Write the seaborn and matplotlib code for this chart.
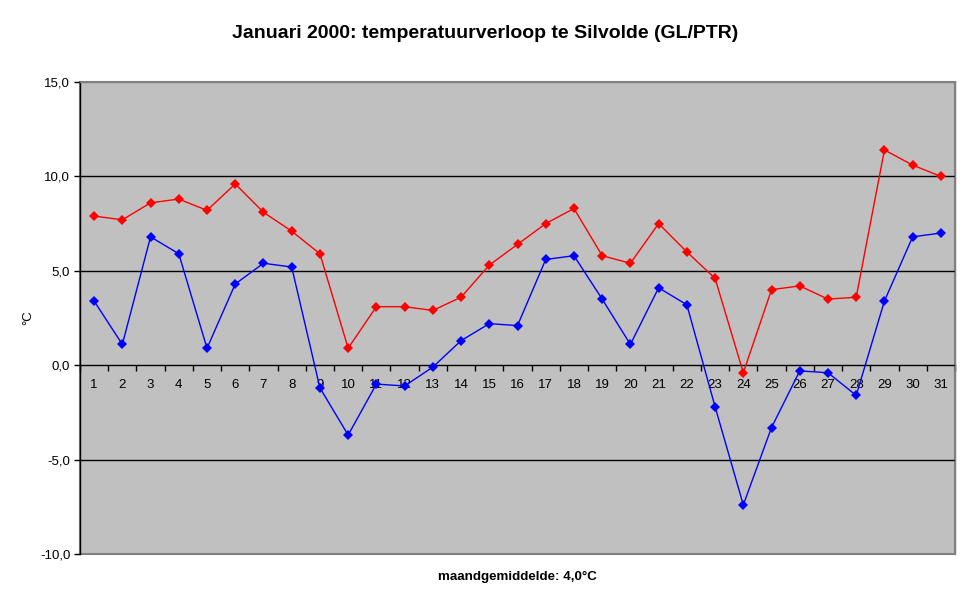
import matplotlib
matplotlib.use("Agg")
import matplotlib.pyplot as plt
import seaborn as sns
import pandas as pd
from matplotlib.patches import Rectangle
from matplotlib.ticker import FixedLocator, FuncFormatter

days = list(range(1, 32))
tmax = [7.9, 7.7, 8.6, 8.8, 8.2, 9.6, 8.1, 7.1, 5.9, 0.9,
        3.1, 3.1, 2.9, 3.6, 5.3, 6.4, 7.5, 8.3, 5.8, 5.4,
        7.5, 6.0, 4.6, -0.4, 4.0, 4.2, 3.5, 3.6, 11.4, 10.6, 10.0]
tmin = [3.4, 1.1, 6.8, 5.9, 0.9, 4.3, 5.4, 5.2, -1.2, -3.7,
        -1.0, -1.1, -0.1, 1.3, 2.2, 2.1, 5.6, 5.8, 3.5, 1.1,
        4.1, 3.2, -2.2, -7.4, -3.3, -0.3, -0.4, -1.6, 3.4, 6.8, 7.0]
yticks = [-10, -5, 0, 5, 10, 15]
title = "Januari 2000: temperatuurverloop te Silvolde (GL/PTR)"
xlabel = "maandgemiddelde: 4,0°C"
ylabel = "°C"

sns.set_style("white")
plt.rcParams['font.family'] = ['Liberation Sans', 'DejaVu Sans']
plt.rcParams['text.color'] = 'black'
plt.rcParams['xtick.color'] = 'black'
plt.rcParams['ytick.color'] = 'black'
plt.rcParams['axes.labelcolor'] = 'black'

df = pd.DataFrame({"dag": days, "max": tmax, "min": tmin})

fig = plt.figure(figsize=(9.7, 6.04), dpi=100)
ax = fig.add_axes([80/970, 50/604, 875/970, 472/604])
ax.set_facecolor("#C0C0C0")

for v in [-5, 5, 10]:
    ax.axhline(v, color="black", lw=1, zorder=1)

sns.lineplot(data=df, x="dag", y="min", ax=ax, color="#0000FF", marker="D",
             markersize=5, markeredgewidth=0, lw=1, zorder=3)
sns.lineplot(data=df, x="dag", y="max", ax=ax, color="#FF0000", marker="D",
             markersize=5, markeredgewidth=0, lw=1, zorder=3)

ax.set_xlim(0.5, 31.5)
ax.set_ylim(-10, 15)
ax.set_yticks(yticks)
ax.yaxis.set_major_formatter(FuncFormatter(lambda v, p: f"{v:.1f}".replace(".", ",")))
ax.tick_params(axis="y", direction="out", length=4, width=1, color="black",
               labelcolor="black", labelsize=9.5, pad=3, left=True)

# category axis at y=0
ax.spines['bottom'].set_position(('data', 0))
ax.spines['bottom'].set_color("black")
ax.spines['bottom'].set_linewidth(1)
ax.spines['bottom'].set_zorder(2)
ax.xaxis.set_major_locator(FixedLocator([d + 0.5 for d in range(0, 32)]))
ax.xaxis.set_minor_locator(FixedLocator(days))
ax.xaxis.set_major_formatter(FuncFormatter(lambda v, p: ""))
ax.xaxis.set_minor_formatter(FuncFormatter(lambda v, p: str(int(round(v)))))
ax.tick_params(axis="x", which="major", direction="out", length=4, width=1,
               color="black", bottom=True)
ax.tick_params(axis="x", which="minor", length=0, labelsize=9.5, pad=10,
               labelcolor="black", bottom=True)

ax.spines['left'].set_color("black")
ax.spines['left'].set_linewidth(1)
for s in ['top', 'right']:
    ax.spines[s].set_color("#808080")
    ax.spines[s].set_linewidth(1)
ax.add_patch(Rectangle((0, 0), 1, 1, transform=ax.transAxes, fill=False,
                       edgecolor="#808080", lw=1.5, zorder=0.5, clip_on=False))

ax.set_xlabel("")
ax.set_ylabel("")
fig.text(28/970, 1 - 318/604, ylabel, rotation=90, ha="center", va="center",
         fontsize=9.5, color="black")
fig.text(517/970, 1 - 577/604, xlabel, ha="center", va="center", fontsize=9.6,
         fontweight="bold", color="black")
fig.text(485/970, 1 - 33/604, title, ha="center", va="center", fontsize=14,
         fontweight="bold", color="black")

fig.savefig("out.png", dpi=100)
